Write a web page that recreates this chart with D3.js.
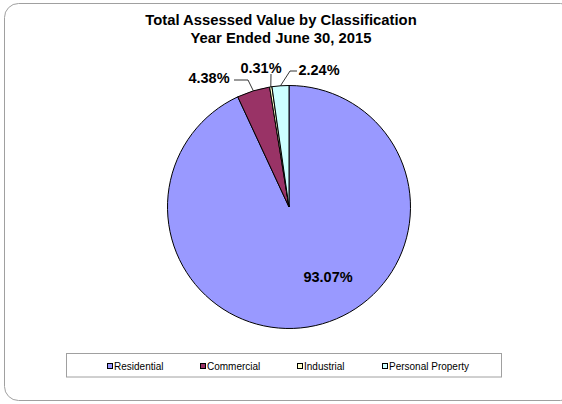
<!DOCTYPE html>
<html><head><meta charset="utf-8">
<script src="https://cdn.jsdelivr.net/npm/d3@7"></script>
<style>body{margin:0;background:#fff}svg{display:block}</style>
</head><body>
<script>
const categories = ["Residential", "Commercial", "Industrial", "Personal Property"];
const values = [93.07, 4.38, 0.31, 2.24];
const labels = ["93.07%", "4.38%", "0.31%", "2.24%"];
const colors = ["#9999FF", "#993366", "#FFFFCC", "#CCFFFF"];
const titleLines = ["Total Assessed Value by Classification", "Year Ended June 30, 2015"];

const W = 562, H = 404;
const svg = d3.select("body").append("svg").attr("width", W).attr("height", H);
const font = "Liberation Sans, Arial, sans-serif";

// outer frame
svg.append("rect").attr("x", 4.5).attr("y", 3.5).attr("width", 570).attr("height", 397)
  .attr("rx", 14).attr("fill", "none").attr("stroke", "#a0a0a0").attr("stroke-width", 1);

// title
svg.append("text").attr("x", 281).attr("y", 25).attr("text-anchor", "middle")
  .attr("font-family", font).attr("font-weight", "bold").attr("font-size", 14.8)
  .selectAll("tspan").data(titleLines).join("tspan")
  .attr("x", 281).attr("dy", (d, i) => i ? 17.5 : 0).text(d => d);

// pie
const cx = 289, cy = 207, r = 121.5;
const pie = d3.pie().sort(null).value(d => d)(values);
const arc = d3.arc().innerRadius(0).outerRadius(r);
const g = svg.append("g").attr("transform", `translate(${cx},${cy})`);
g.selectAll("path").data(pie).join("path")
  .attr("d", arc).attr("fill", (d, i) => colors[i])
  .attr("stroke", "#000").attr("stroke-width", 1).attr("stroke-linejoin", "round");

const pt = (a, rr) => [cx + rr * Math.sin(a), cy - rr * Math.cos(a)];
// inside label for Residential
svg.append("text").attr("x", 328).attr("y", 282).attr("text-anchor", "middle")
  .attr("font-family", font).attr("font-weight", "bold").attr("font-size", 14.5).text(labels[0]);

// outside labels with leader lines
const outside = [
  {i: 1, tx: 209, ty: 83, path: (e) => [[234, 80], [248, 80], e]},
  {i: 2, tx: 261, ty: 73, path: (e) => [[271, 74], e]},
  {i: 3, tx: 319, ty: 75, path: (e) => [[297, 71], [290, 71], e]}
];
outside.forEach(o => {
  const d = pie[o.i];
  const m = (d.startAngle + d.endAngle) / 2;
  const e = pt(m, r);
  svg.append("polyline").attr("points", o.path(e).map(p => p.join(",")).join(" "))
    .attr("fill", "none").attr("stroke", "#000").attr("stroke-width", 0.8);
  svg.append("text").attr("x", o.tx).attr("y", o.ty).attr("text-anchor", "middle")
    .attr("font-family", font).attr("font-weight", "bold").attr("font-size", 14.5).text(labels[o.i]);
});

// legend
svg.append("rect").attr("x", 66.5).attr("y", 353.5).attr("width", 435).attr("height", 23.5)
  .attr("fill", "#fff").attr("stroke", "#a0a0a0").attr("stroke-width", 1);
const legX = [107, 200, 297, 382];
const lg = svg.append("g").selectAll("g").data(categories).join("g")
  .attr("transform", (d, i) => `translate(${legX[i]},366)`);
lg.append("rect").attr("x", 0.5).attr("y", -2.5).attr("width", 5).attr("height", 5)
  .attr("fill", (d, i) => colors[i]).attr("stroke", "#000").attr("stroke-width", 1);
lg.append("text").attr("x", 7).attr("y", 3.6).attr("font-family", font).attr("font-size", 10).text(d => d);
</script>
</body></html>
